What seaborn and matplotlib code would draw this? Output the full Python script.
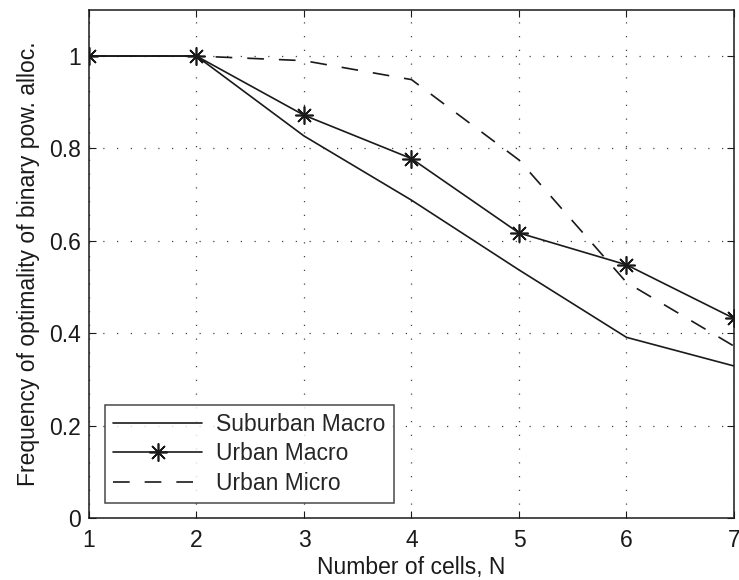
import numpy as np
import pandas as pd
import matplotlib
matplotlib.use('Agg')
import matplotlib.pyplot as plt
import seaborn as sns

sns.set_theme(style='ticks', context='paper')
plt.rcParams['font.family'] = ['Liberation Sans', 'DejaVu Sans']

cells = [1, 2, 3, 4, 5, 6, 7]
suburban_macro = [1.0, 1.0, 0.827, 0.688, 0.537, 0.391, 0.329]
urban_macro = [1.0, 1.0, 0.872, 0.778, 0.617, 0.548, 0.432]
urban_micro = [1.0, 1.0, 0.990, 0.949, 0.775, 0.51, 0.372]

fs = 16.5
ink = '#1a1a1a'

fig = plt.figure(figsize=(7.39, 5.80), dpi=100)
ax = fig.add_axes([0.1204, 0.107, 0.8728, 0.876])

sns.lineplot(x=cells, y=suburban_macro, ax=ax, color=ink, lw=1.2,
             label='Suburban Macro')
sns.lineplot(x=cells, y=urban_macro, ax=ax, color=ink, lw=1.2,
             marker=(8, 2, 0), markersize=13, markeredgewidth=1.2,
             markeredgecolor=ink, label='Urban Macro')
sns.lineplot(x=cells, y=urban_micro, ax=ax, color=ink, lw=1.2,
             dashes=(10, 9), label='Urban Micro')

ax.set_xlim(1, 7)
ax.set_ylim(0, 1.1)
ax.set_xticks(cells)
ax.set_yticks([0, 0.2, 0.4, 0.6, 0.8, 1.0])
ax.set_yticklabels(['0', '0.2', '0.4', '0.6', '0.8', '1'])
ax.tick_params(direction='in', labelsize=fs, length=5, width=0.8, pad=8,
               top=True, right=True, colors=ink)
ax.tick_params(axis='y', pad=6)
ax.grid(True, linestyle=(0, (1, 10)), color='#444444', lw=0.9)
for s in ax.spines.values():
    s.set_linewidth(1.1)
    s.set_color(ink)

ax.set_xlabel('Number of cells, N', fontsize=fs, color=ink, labelpad=3)
ax.set_ylabel('Frequency of optimality of binary pow. alloc.', fontsize=fs,
              color=ink, labelpad=6)

leg = ax.legend(loc='lower left', fontsize=fs, frameon=True, fancybox=False,
                edgecolor=ink, borderpad=0.35, handlelength=3.9,
                handletextpad=0.6, labelspacing=0.28, borderaxespad=0,
                bbox_to_anchor=(0.025, 0.03))
leg.get_frame().set_linewidth(1.1)

fig.savefig('out.png', dpi=100)
plt.close(fig)
